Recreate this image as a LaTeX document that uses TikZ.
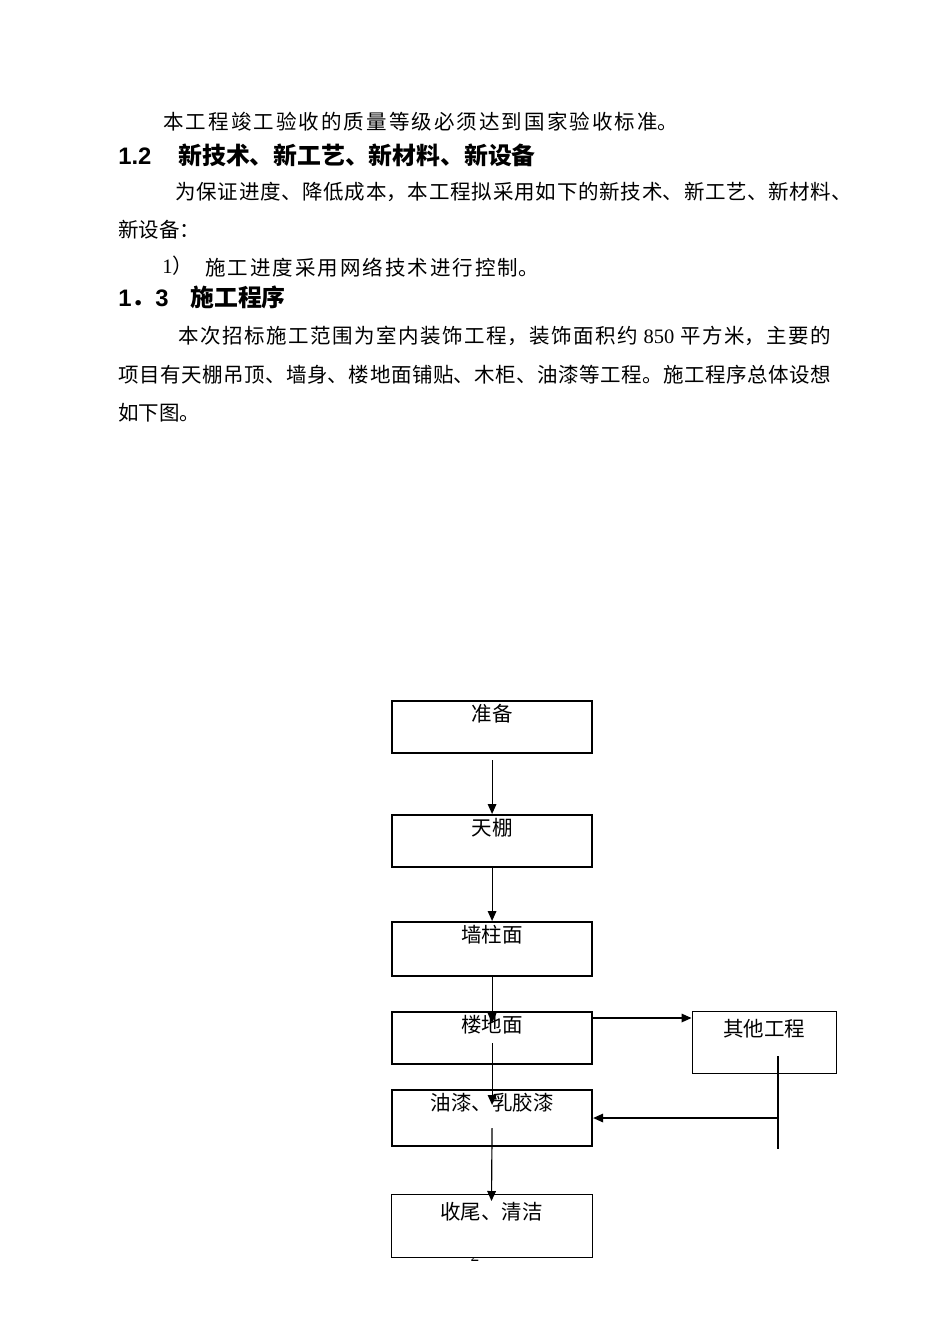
\documentclass[tikz,border=0pt]{standalone}
\usepackage{fontspec}
\setmainfont{Noto Sans CJK SC}
\newfontfamily\lat{Liberation Serif}
\newfontfamily\hlat{Liberation Sans}
\XeTeXlinebreaklocale "zh"
\XeTeXlinebreakskip=0pt plus 4pt minus 0.5pt
\usetikzlibrary{arrows.meta}
\newcommand\bodyf{\fontsize{12.3pt}{15pt}\selectfont}
\newcommand\headf{\fontsize{14.3pt}{17pt}\selectfont\bfseries}
\newcommand\jl[2]{\parbox{#1}{\parfillskip=0pt\relax #2}}
\tikzset{
  txt/.style={anchor=base west, inner sep=0pt, font=\bodyf},
  head/.style={anchor=base west, inner sep=0pt, font=\headf},
  tbox/.style={draw, line width=1.3pt, anchor=north west, inner sep=0pt, fill=white, minimum width=120pt},
  nbox/.style={draw, line width=0.6pt, anchor=north west, inner sep=0pt, fill=white},
  lbl/.style={anchor=center, inner sep=0pt, font=\bodyf},
  arr/.style={line width=0.7pt, -{Triangle[length=6pt,width=5.2pt]}},
  ln/.style={line width=0.7pt}
}
\begin{document}
\begin{tikzpicture}[x=0.6pt,y=-0.6pt]
\useasboundingbox (0,0) rectangle (950,1344);
% body text
\node[txt] (l1) at (163,127) {\jl{309pt}{本工程竣工验收的质量等级必须达到国家验收标准。}};
\node[head] (h2n) at (118,164) {\hlat 1.2};
\node[head] (h2t) at (178,164) {新技术、新工艺、新材料、新设备};
\node[txt] (l3) at (175,197) {\jl{406pt}{为保证进度、降低成本，本工程拟采用如下的新技术、新工艺、新材料、}};
\node[txt] (l4) at (118,237) {新设备：};
\node[txt] (l5a) at (162,273) {{\lat 1}）};
\node[txt] (l5b) at (205,273) {\jl{200pt}{施工进度采用网络技术进行控制。}};
\node[head] (h3n) at (118,306) {\hlat 1{\rmfamily．}3};
\node[head] (h3t) at (190,306) {施工程序};
\node[txt] (l7) at (178,341) {\jl{391.8pt}{本次招标施工范围为室内装饰工程，装饰面积约{\lat\ 850 }平方米，主要的}};
\node[txt] (l8) at (118,380) {\jl{427.8pt}{项目有天棚吊顶、墙身、楼地面铺贴、木柜、油漆等工程。施工程序总体设想}};
\node[txt] (l9) at (118,420) {如下图。};
% page number (mostly hidden)
\node[anchor=base, inner sep=0pt, font=\lat\fontsize{10.5pt}{12pt}\selectfont] (pg) at (475,1261) {2};
% flowchart boxes
\node[tbox, minimum height=31.2pt, label={[lbl, yshift=-8.4pt]north:准备}] (b1) at (391,700) {};
\node[tbox, minimum height=31.2pt, label={[lbl, yshift=-8.4pt]north:天棚}] (b2) at (391,814) {};
\node[tbox, minimum height=32.4pt, label={[lbl, yshift=-8.4pt]north:墙柱面}] (b3) at (391,921) {};
\node[tbox, minimum height=31.2pt, label={[lbl, yshift=-8.1pt]north:楼地面}] (b4) at (391,1011) {};
\node[tbox, minimum height=33.6pt, label={[lbl, yshift=-8.1pt]north:油漆、乳胶漆}] (b5) at (391,1089) {};
\node[nbox, minimum width=120.6pt, minimum height=37.8pt, label={[lbl, yshift=-11.1pt]north:收尾、清洁}] (b6) at (390.5,1193.5) {};
\node[nbox, minimum width=86.4pt, minimum height=37.2pt, label={[lbl, yshift=-11.1pt]north:其他工程}] (o) at (691.5,1010.5) {};
% connectors
\draw[arr, shorten <=3.6pt] (b1.south) -- (b2.north);
\draw[arr] (b2.south) -- (b3.north);
\draw[arr] (b3.south) -- ([yshift=-7.2pt]b4.north);
\draw[arr] ([yshift=-19.2pt]b4.north) -- ([yshift=-9.6pt]b5.north);
\draw[arr] ([yshift=-23.4pt]b5.north) -- ([yshift=-4.5pt]b6.north);
\draw[arr] ([yshift=-4.2pt]b4.north east) -- ([yshift=-4.5pt]o.north west);
\coordinate (v1) at (778,1056);
\coordinate (v2) at (778,1149);
\coordinate (h1) at (778,1118);
\draw[ln] (v1) -- (v2);
\draw[arr] (h1) -- (b5.east |- h1);
\end{tikzpicture}
\end{document}
